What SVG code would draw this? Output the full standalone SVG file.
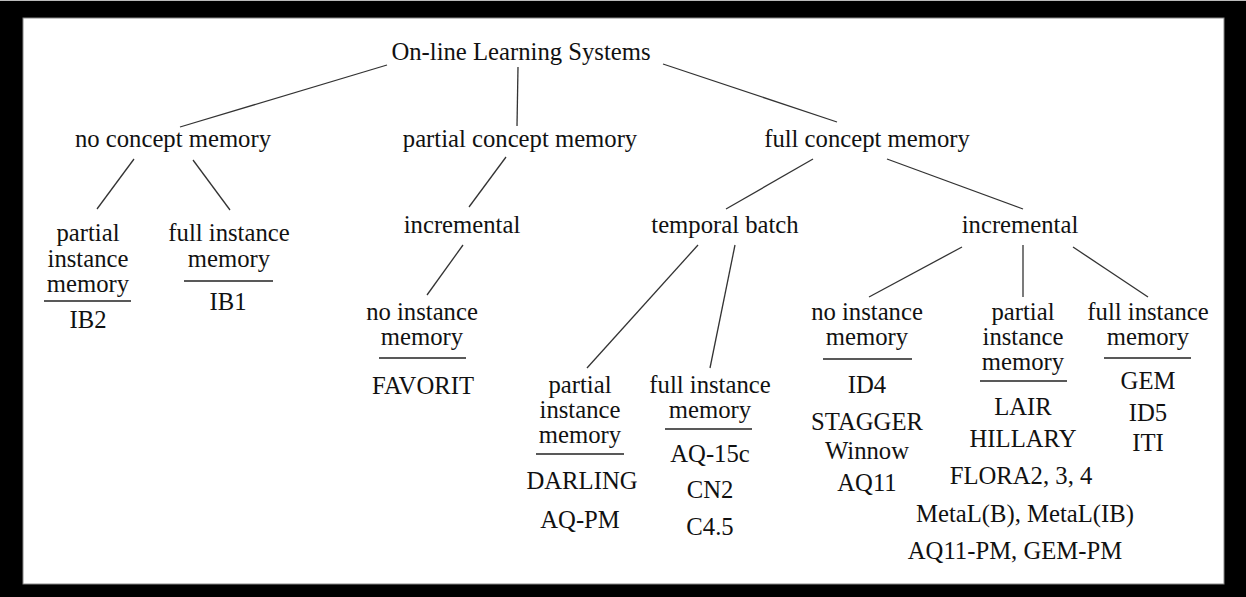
<svg xmlns="http://www.w3.org/2000/svg" width="1246" height="597" viewBox="0 0 1246 597">
<style>
text{font-family:"Liberation Serif","Times New Roman",serif;font-size:24.7px;fill:#111;text-anchor:middle}
.c line{stroke:#333;stroke-width:1.3}
.u{stroke:#222;stroke-width:1.5}
</style>
<rect x="0" y="0" width="1246" height="597" fill="#000"/>
<rect x="0" y="0" width="1246" height="1" fill="#bbb"/>
<rect x="23" y="18" width="1201" height="566" fill="#fff" stroke="#888" stroke-width="1"/>
<g class="c" id="connectors">
<line x1="387" y1="65" x2="180" y2="127"/>
<line x1="518" y1="67" x2="517" y2="126"/>
<line x1="663" y1="64" x2="837" y2="122"/>
<line x1="134" y1="159" x2="97" y2="209"/>
<line x1="193" y1="160" x2="230" y2="210"/>
<line x1="506" y1="157" x2="469" y2="207"/>
<line x1="813" y1="159" x2="726" y2="209"/>
<line x1="887" y1="159" x2="1023" y2="209"/>
<line x1="463" y1="245" x2="427" y2="295"/>
<line x1="698" y1="245" x2="587" y2="368"/>
<line x1="735" y1="245" x2="710" y2="368"/>
<line x1="962" y1="247" x2="869" y2="297"/>
<line x1="1023" y1="245" x2="1023" y2="297"/>
<line x1="1073" y1="247" x2="1148" y2="297"/>
</g>
<g id="root"><text x="521" y="60">On-line Learning Systems</text></g>
<g id="no-concept"><text x="173" y="147">no concept memory</text></g>
<g id="partial-concept"><text x="520" y="147">partial concept memory</text></g>
<g id="full-concept"><text x="867" y="147">full concept memory</text></g>
<g id="nc-partial-inst">
<text x="88" y="241">partial</text><text x="88" y="267">instance</text><text x="88" y="292">memory</text>
<line class="u" x1="44" y1="301" x2="131" y2="301"/>
<text x="88" y="328">IB2</text>
</g>
<g id="nc-full-inst">
<text x="229" y="241">full instance</text><text x="229" y="267">memory</text>
<line class="u" x1="184" y1="281" x2="273" y2="281"/>
<text x="228" y="310">IB1</text>
</g>
<g id="pc-incremental"><text x="462" y="233">incremental</text></g>
<g id="pc-no-inst">
<text x="422" y="320">no instance</text><text x="422" y="345">memory</text>
<line class="u" x1="379" y1="358" x2="466" y2="358"/>
<text x="423" y="394">FAVORIT</text>
</g>
<g id="temporal-batch"><text x="725" y="233">temporal batch</text></g>
<g id="tb-partial-inst">
<text x="580" y="393">partial</text><text x="580" y="418">instance</text><text x="580" y="443">memory</text>
<line class="u" x1="536" y1="454" x2="624" y2="454"/>
<text x="582" y="489">DARLING</text>
<text x="580" y="528">AQ-PM</text>
</g>
<g id="tb-full-inst">
<text x="710" y="393">full instance</text><text x="710" y="418">memory</text>
<line class="u" x1="665" y1="429" x2="752" y2="429"/>
<text x="710" y="462">AQ-15c</text>
<text x="710" y="498">CN2</text>
<text x="710" y="535">C4.5</text>
</g>
<g id="fc-incremental"><text x="1020" y="233">incremental</text></g>
<g id="inc-no-inst">
<text x="867" y="320">no instance</text><text x="867" y="345">memory</text>
<line class="u" x1="823" y1="359" x2="912" y2="359"/>
<text x="867" y="393">ID4</text>
<text x="867" y="430">STAGGER</text>
<text x="867" y="459">Winnow</text>
<text x="867" y="491">AQ11</text>
</g>
<g id="inc-partial-inst">
<text x="1023" y="320">partial</text><text x="1023" y="345">instance</text><text x="1023" y="370">memory</text>
<line class="u" x1="980" y1="381" x2="1067" y2="381"/>
<text x="1023" y="415">LAIR</text>
<text x="1023" y="447">HILLARY</text>
<text x="1021" y="484">FLORA2, 3, 4</text>
<text x="1025" y="522">MetaL(B), MetaL(IB)</text>
<text x="1015" y="559">AQ11-PM, GEM-PM</text>
</g>
<g id="inc-full-inst">
<text x="1148" y="320">full instance</text><text x="1148" y="345">memory</text>
<line class="u" x1="1104" y1="358" x2="1191" y2="358"/>
<text x="1148" y="389">GEM</text>
<text x="1148" y="421">ID5</text>
<text x="1148" y="451">ITI</text>
</g>
</svg>
